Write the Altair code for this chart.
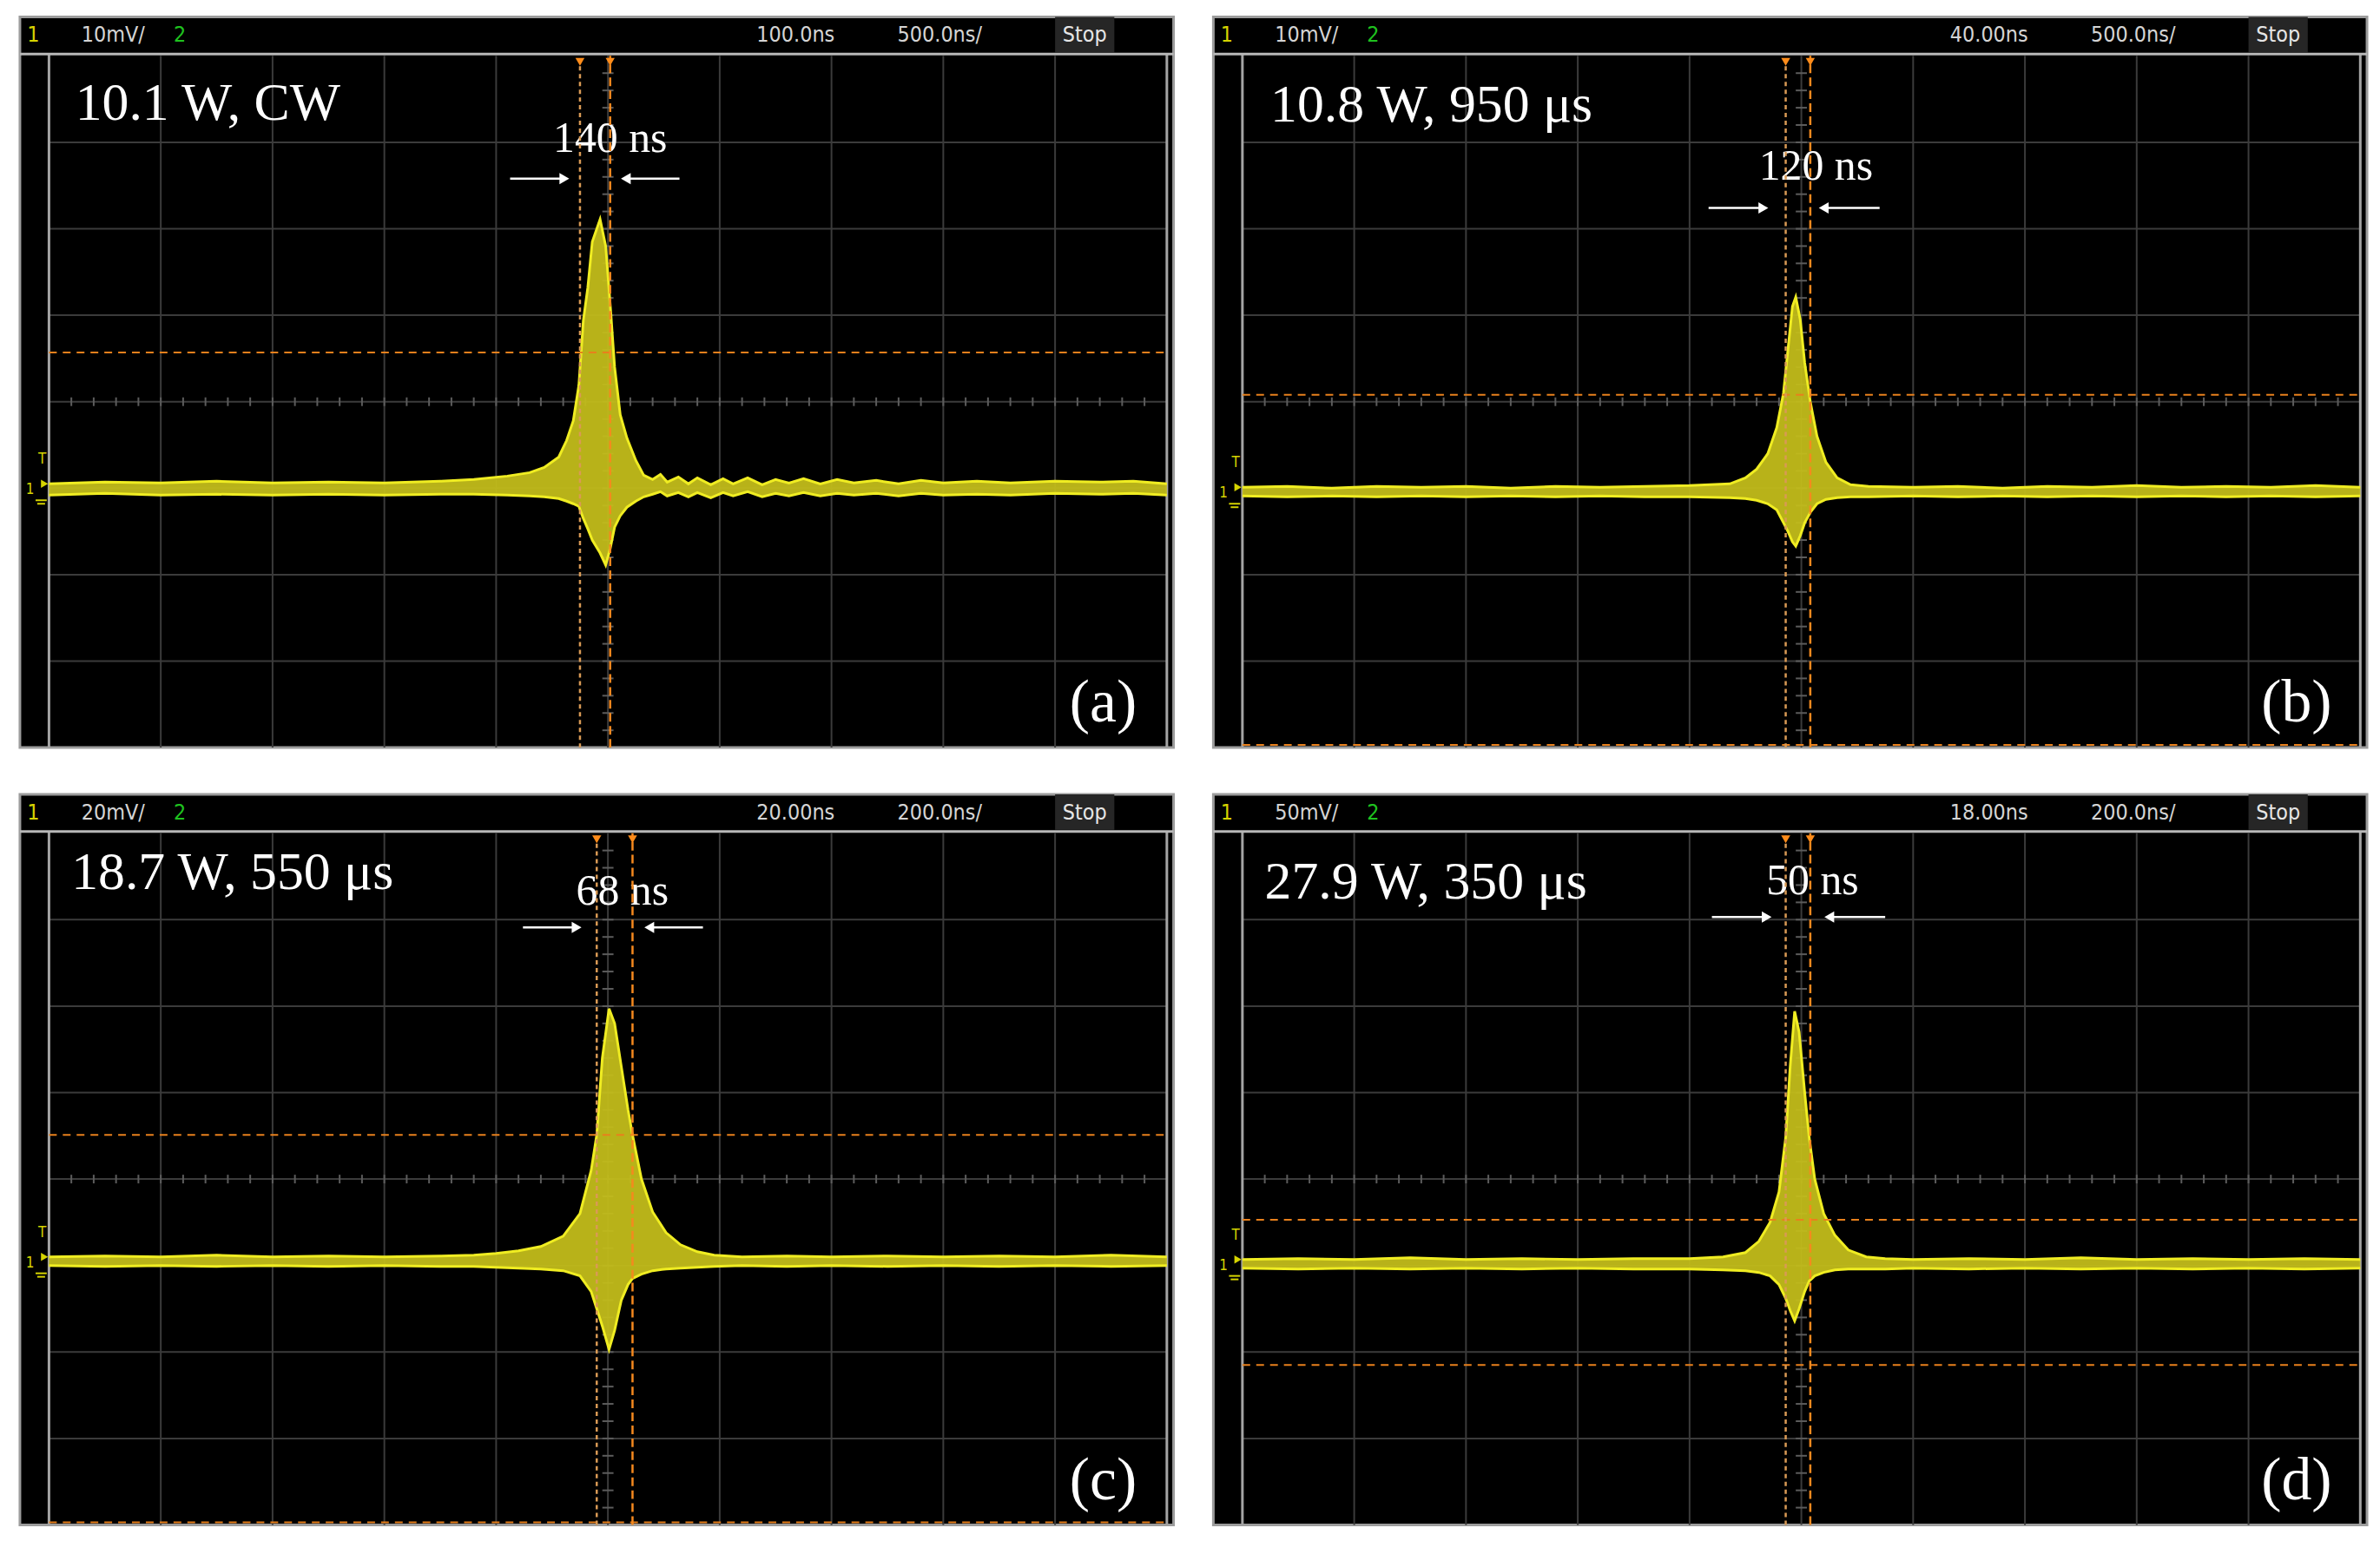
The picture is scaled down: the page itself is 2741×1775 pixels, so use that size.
import altair as alt
import pandas as pd
import numpy as np

# ---------------- data ----------------
# trace envelopes (x in divisions, y in divisions from centre line)
a_x = [0.0, 0.5, 1.0, 1.5, 2.0, 2.5, 3.0, 3.5, 3.8, 4.1, 4.3, 4.43, 4.56, 4.63, 4.69, 4.74, 4.78, 4.82, 4.86, 4.93,
       4.98, 5.02, 5.06, 5.11, 5.17, 5.25, 5.32, 5.40, 5.47, 5.53, 5.63, 5.72, 5.80, 5.92, 6.03, 6.12, 6.25, 6.38, 6.50, 6.62,
       6.75, 6.90, 7.05, 7.20, 7.40, 7.60, 7.80, 8.00, 8.30, 8.60, 9.00, 9.40, 9.70, 10.0]
a_hi = [-0.95, -0.93, -0.94, -0.92, -0.94, -0.93, -0.94, -0.92, -0.90, -0.86, -0.82, -0.76, -0.64, -0.45, -0.22, 0.19, 0.94, 1.32, 1.85, 2.11,
        1.80, 1.13, 0.40, -0.15, -0.42, -0.68, -0.85, -0.90, -0.84, -0.93, -0.87, -0.95, -0.88, -0.96, -0.89, -0.95, -0.88, -0.96, -0.90, -0.94,
        -0.89, -0.95, -0.90, -0.94, -0.91, -0.95, -0.91, -0.94, -0.92, -0.94, -0.92, -0.93, -0.92, -0.95]
a_lo = [-1.08, -1.06, -1.08, -1.07, -1.08, -1.07, -1.08, -1.07, -1.07, -1.08, -1.09, -1.10, -1.12, -1.15, -1.18, -1.21, -1.35, -1.47, -1.60, -1.75,
        -1.89, -1.70, -1.45, -1.32, -1.22, -1.15, -1.10, -1.07, -1.04, -1.09, -1.05, -1.10, -1.05, -1.11, -1.05, -1.09, -1.04, -1.10, -1.06, -1.09,
        -1.05, -1.09, -1.06, -1.08, -1.06, -1.09, -1.06, -1.08, -1.07, -1.08, -1.06, -1.07, -1.06, -1.08]

b_x = [0, 0.4, 0.8, 1.2, 1.6, 2.0, 2.4, 2.8, 3.2, 3.6, 4.0, 4.36, 4.5, 4.6, 4.7, 4.78, 4.84, 4.88, 4.92, 4.95,
       4.99, 5.03, 5.08, 5.14, 5.22, 5.32, 5.44, 5.6, 6.0, 6.4, 6.8, 7.2, 7.6, 8.0, 8.4, 8.8, 9.2, 9.6, 10.0]
b_hi = [-0.99, -0.98, -1.0, -0.98, -0.99, -0.98, -1.0, -0.98, -0.99, -0.98, -0.97, -0.95, -0.88, -0.78, -0.60, -0.30, 0.10, 0.60, 1.10, 1.21,
        0.95, 0.45, 0.0, -0.40, -0.70, -0.88, -0.96, -0.98, -0.99, -0.98, -1.0, -0.98, -0.99, -0.97, -0.99, -0.98, -0.99, -0.97, -0.99]
b_lo = [-1.09, -1.10, -1.09, -1.10, -1.09, -1.10, -1.09, -1.10, -1.09, -1.10, -1.10, -1.11, -1.12, -1.14, -1.18, -1.25, -1.40, -1.50, -1.62, -1.67,
        -1.55, -1.40, -1.28, -1.18, -1.13, -1.11, -1.10, -1.10, -1.09, -1.10, -1.09, -1.10, -1.09, -1.10, -1.09, -1.10, -1.09, -1.10, -1.09]

c_x = [0, 0.5, 1.0, 1.5, 2.0, 2.5, 3.0, 3.5, 3.8, 4.0, 4.2, 4.4, 4.6, 4.75, 4.85, 4.90, 4.95, 5.01, 5.06, 5.12,
       5.18, 5.22, 5.30, 5.40, 5.52, 5.65, 5.80, 5.95, 6.2, 6.6, 7.0, 7.5, 8.0, 8.5, 9.0, 9.5, 10.0]
c_hi = [-0.90, -0.89, -0.90, -0.88, -0.90, -0.89, -0.90, -0.89, -0.88, -0.86, -0.83, -0.78, -0.66, -0.40, 0.10, 0.51, 1.40, 1.97, 1.80, 1.30,
        0.80, 0.51, 0.0, -0.38, -0.62, -0.76, -0.84, -0.88, -0.90, -0.89, -0.90, -0.89, -0.90, -0.89, -0.90, -0.88, -0.90]
c_lo = [-1.00, -1.01, -1.00, -1.01, -1.00, -1.01, -1.00, -1.01, -1.01, -1.02, -1.03, -1.04, -1.06, -1.12, -1.30, -1.50, -1.70, -1.97, -1.75, -1.40,
        -1.22, -1.15, -1.10, -1.06, -1.04, -1.03, -1.02, -1.01, -1.00, -1.01, -1.00, -1.01, -1.00, -1.01, -1.00, -1.01, -1.00]

d_x = [0, 0.5, 1.0, 1.5, 2.0, 2.5, 3.0, 3.5, 4.0, 4.3, 4.5, 4.62, 4.72, 4.80, 4.86, 4.90, 4.94, 4.98, 5.03, 5.07,
       5.12, 5.20, 5.30, 5.42, 5.58, 5.75, 6.0, 6.5, 7.0, 7.5, 8.0, 8.5, 9.0, 9.5, 10.0]
d_hi = [-0.93, -0.92, -0.93, -0.91, -0.93, -0.92, -0.93, -0.92, -0.92, -0.90, -0.85, -0.72, -0.50, -0.15, 0.48, 1.30, 1.94, 1.70, 1.00, 0.48,
        0.0, -0.40, -0.65, -0.82, -0.90, -0.92, -0.93, -0.92, -0.93, -0.91, -0.93, -0.92, -0.93, -0.92, -0.93]
d_lo = [-1.03, -1.04, -1.03, -1.04, -1.03, -1.04, -1.03, -1.04, -1.04, -1.05, -1.06, -1.08, -1.12, -1.22, -1.38, -1.52, -1.64, -1.50, -1.30, -1.18,
        -1.12, -1.08, -1.05, -1.04, -1.04, -1.04, -1.03, -1.04, -1.03, -1.04, -1.03, -1.04, -1.03, -1.04, -1.03]

titles = ["10.1 W, CW", "10.8 W, 950 \u03bcs", "18.7 W, 550 \u03bcs", "27.9 W, 350 \u03bcs"]
tags = ["(a)", "(b)", "(c)", "(d)"]
widths = ["140 ns", "120 ns", "68 ns", "50 ns"]
volts = ["10mV/", "10mV/", "20mV/", "50mV/"]
tpos = ["100.0ns", "40.00ns", "20.00ns", "18.00ns"]
tbase = ["500.0ns/", "500.0ns/", "200.0ns/", "200.0ns/"]
cursor_x = [(4.75, 5.02), (4.86, 5.08), (4.90, 5.22), (4.86, 5.08)]
cursor_y = [[0.57], [0.08, -3.97], [0.51, -3.97], [-0.47, -2.15]]
baselines = [-1.0, -1.04, -0.95, -0.98]

traces = [(a_x, a_hi, a_lo), (b_x, b_hi, b_lo), (c_x, c_hi, c_lo), (d_x, d_hi, d_lo)]

# annotation placement (style/layout)
title_pos = [(0.235, 3.26), (0.25, 3.24), (0.20, 3.35), (0.20, 3.24)]
width_pos = [(5.02, 2.89), (5.13, 2.57), (5.13, 3.17), (5.10, 3.29)]
arrow_pos = [(2.58, 4.125, 4.67, 5.64, 5.10), (2.24, 4.17, 4.72, 5.70, 5.14),
             (2.91, 4.24, 4.78, 5.85, 5.31), (3.03, 4.20, 4.75, 5.75, 5.19)]

W, H = 1334, 845
XD = [-0.26, 10.06]
YD = [-4.0, 4.45]
SERIF = "Liberation Serif, Times New Roman, serif"
SANS = "Liberation Sans Narrow, DejaVu Sans Condensed, Liberation Sans, sans-serif"


def X(f="x"):
    return alt.X(f + ":Q", scale=alt.Scale(domain=XD, nice=False, zero=False), axis=None)


def Y(f="y"):
    return alt.Y(f + ":Q", scale=alt.Scale(domain=YD, nice=False, zero=False), axis=None)


def segs(rows, **mk):
    df = pd.DataFrame(rows, columns=["x", "x2", "y", "y2"])
    return alt.Chart(df).mark_rule(**mk).encode(x=X(), x2=alt.X2("x2"), y=Y(), y2=alt.Y2("y2"))


def texts(rows, **mk):
    df = pd.DataFrame(rows, columns=["x", "y", "t"])
    return alt.Chart(df).mark_text(**mk).encode(x=X(), y=Y(), text="t:N")


def pts(rows, **mk):
    df = pd.DataFrame(rows, columns=["x", "y"])
    return alt.Chart(df).mark_point(**mk).encode(x=X(), y=Y())


def panel(i):
    L = []
    # Stop box in header
    L.append(alt.Chart(pd.DataFrame({"x": [9.0], "x2": [9.53], "y": [4.04], "y2": [4.45]}))
             .mark_rect(color="#262626").encode(x=X(), x2=alt.X2("x2"), y=Y(), y2=alt.Y2("y2")))
    # graticule
    L.append(segs([(k, k, -4, 4) for k in range(1, 10)], color="#3b3b3b", strokeWidth=2))
    L.append(segs([(0, 10, k, k) for k in range(-3, 4)], color="#3b3b3b", strokeWidth=2))
    L.append(segs([(t, t, -0.05, 0.05) for t in np.arange(0.2, 10.0, 0.2)], color="#5c5c5c", strokeWidth=2))
    L.append(segs([(4.95, 5.05, t, t) for t in np.arange(-3.8, 4.0, 0.2)], color="#5c5c5c", strokeWidth=2))
    # frame lines
    L.append(segs([(0, 0, -4.0, 4.02), (10, 10, -4.0, 4.02)], color="#a4a4a4", strokeWidth=3))
    L.append(segs([(-0.26, 10.06, 4.02, 4.02)], color="#b8b8b8", strokeWidth=3))
    # header texts
    L.append(texts([(-0.14, 4.24, "1")], color="#d6d400", font=SANS, fontSize=25, align="center", baseline="middle"))
    L.append(texts([(1.17, 4.24, "2")], color="#1fc21f", font=SANS, fontSize=25, align="center", baseline="middle"))
    L.append(texts([(0.29, 4.24, volts[i]), (6.33, 4.24, tpos[i]), (7.59, 4.24, tbase[i])],
                   color="#d4d4d4", font=SANS, fontSize=25, align="left", baseline="middle"))
    L.append(texts([(9.265, 4.24, "Stop")], color="#e6e6e6", font=SANS, fontSize=25, align="center", baseline="middle"))
    # trigger / channel markers in the left strip
    bl = baselines[i]
    L.append(texts([(-0.06, bl + 0.33, "T")], color="#d6d400", font=SANS, fontSize=17, align="center", baseline="middle"))
    L.append(texts([(-0.17, bl - 0.02, "1")], color="#d6d400", font=SANS, fontSize=17, align="center", baseline="middle"))
    L.append(pts([(-0.04, bl + 0.05)], shape="triangle-right", filled=True, color="#d6d400", size=90, opacity=1))
    L.append(segs([(-0.12, -0.02, bl - 0.14, bl - 0.14), (-0.105, -0.035, bl - 0.18, bl - 0.18)],
                  color="#d6d400", strokeWidth=2))
    # trace
    xs, hi, lo = traces[i]
    df = pd.DataFrame({"x": xs, "hi": hi, "lo": lo})
    L.append(alt.Chart(df).mark_area(color="#c2bc1a", opacity=0.95).encode(x=X(), y=Y("hi"), y2=alt.Y2("lo")))
    L.append(alt.Chart(df).mark_line(color="#f0ed22", strokeWidth=3).encode(x=X(), y=Y("hi")))
    L.append(alt.Chart(df).mark_line(color="#f0ed22", strokeWidth=3).encode(x=X(), y=Y("lo")))
    # annotations
    tx, ty = title_pos[i]
    L.append(texts([(tx, ty, titles[i])], color="white", font=SERIF, fontSize=62, align="left", baseline="alphabetic"))
    L.append(texts([(9.43, -3.70, tags[i])], color="white", font=SERIF, fontSize=70, align="center", baseline="alphabetic"))
    wx, wy = width_pos[i]
    L.append(texts([(wx, wy, widths[i])], color="white", font=SERIF, fontSize=50, align="center", baseline="alphabetic"))
    ay, l1, l2, r1, r2 = arrow_pos[i]
    L.append(segs([(l1, l2 - 0.08, ay, ay), (r1, r2 + 0.08, ay, ay)], color="white", strokeWidth=2.5))
    L.append(pts([(l2 - 0.06, ay)], shape="triangle-right", filled=True, color="white", size=170, opacity=1))
    L.append(pts([(r2 + 0.06, ay)], shape="triangle-left", filled=True, color="white", size=170, opacity=1))
    # cursors
    c1, c2 = cursor_x[i]
    L.append(segs([(0, 10, h, h) for h in cursor_y[i]], color="#e8801c", strokeWidth=2, strokeDash=[9, 7]))
    L.append(segs([(c1, c1, -4, 4)], color="#d99a55", strokeWidth=2.5, strokeDash=[5, 4]))
    L.append(segs([(c2, c2, -4, 4)], color="#f5891e", strokeWidth=2.5, strokeDash=[10, 5]))
    L.append(pts([(c1, 3.93), (c2, 3.93)], shape="triangle-down", filled=True, color="#ff8c1a", size=110, opacity=1))
    return alt.layer(*L).properties(width=W, height=H)


P = [panel(i) for i in range(4)]
chart = alt.vconcat(
    alt.hconcat(P[0], P[1], spacing=40),
    alt.hconcat(P[2], P[3], spacing=40),
    spacing=49,
).properties(
    padding={"left": 12, "top": 6, "right": 4, "bottom": 4},
    background="white",
).configure_view(fill="black", stroke="#9c9c9c", strokeWidth=3)

chart.save("out.html", embed_options={"renderer": "svg", "actions": False})
